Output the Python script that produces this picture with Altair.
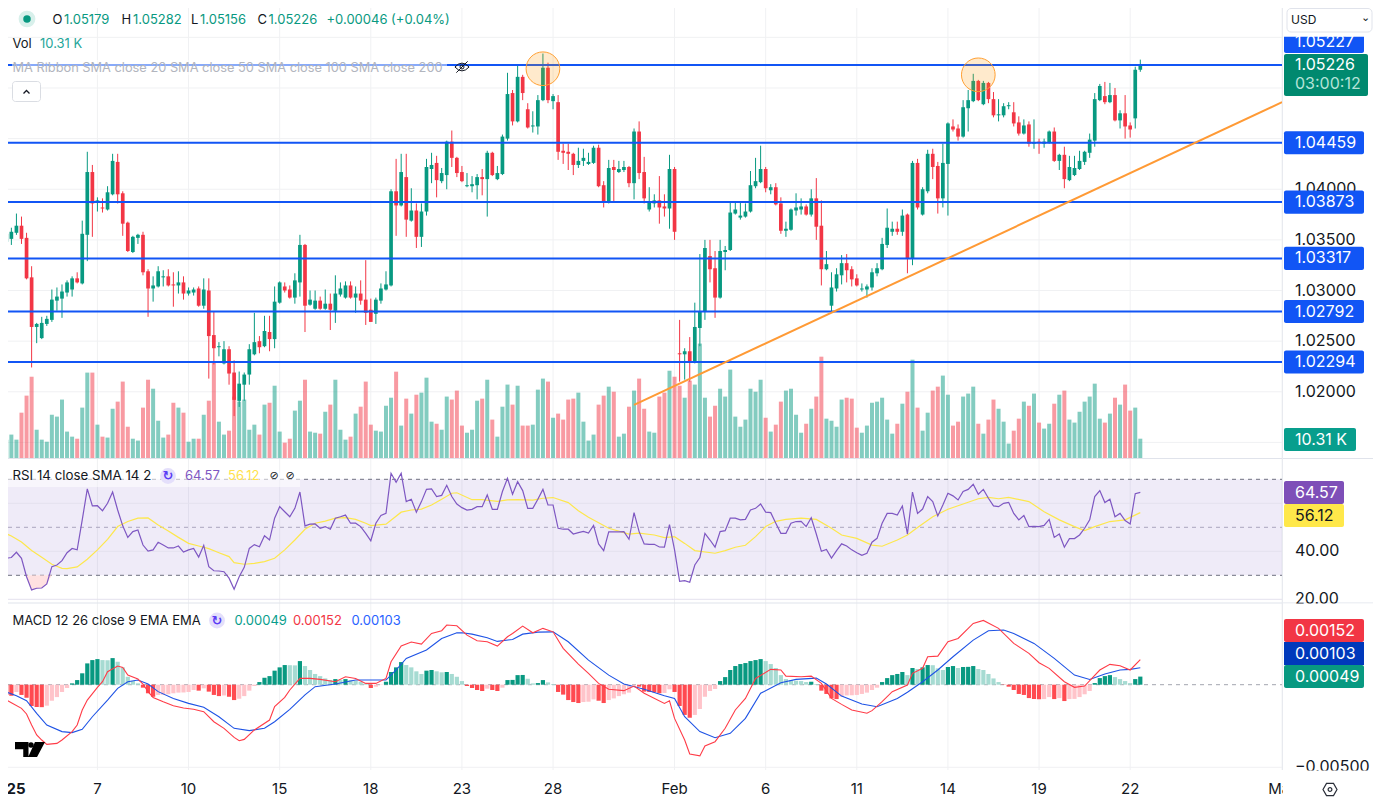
import altair as alt
import pandas as pd

# ---------- candles, prices in 1/10000 ----------
opens = [10348,10351,10357,10364,10352,10313,10264,10253,10267,10271,
10290,10292,10298,10301,10312,10307,10355,10417,10387,10382,
10380,10395,10427,10396,10367,10338,10352,10355,10319,10302,
10304,10313,10314,10306,10305,10308,10297,10298,10302,10285,
10300,10256,10244,10228,10242,10219,10191,10207,10217,10237,
10250,10245,10259,10252,10288,10304,10301,10293,10308,10345,
10286,10282,10290,10282,10287,10280,10296,10293,10305,10293,
10297,10291,10281,10277,10290,10301,10305,10398,10384,10412,
10369,10379,10353,10378,10420,10426,10408,10414,10447,10431,
10417,10403,10403,10404,10412,10410,10436,10410,10415,10450,
10495,10467,10511,10479,10462,10462,10488,10520,10487,10486,
10438,10437,10435,10424,10428,10425,10426,10441,10404,10387,
10422,10417,10419,10422,10406,10457,10417,10380,10386,10389,
10383,10381,10420,10238,10237,10240,10229,10263,10279,10334,
10322,10293,10338,10340,10376,10372,10373,10378,10403,10407,
10420,10399,10402,10386,10359,10360,10379,10380,10383,10375,
10391,10364,10321,10285,10302,10315,10327,10321,10312,10301,
10301,10303,10317,10321,10345,10358,10361,10358,10375,10332,
10426,10375,10398,10435,10423,10391,10425,10462,10460,10452,
10480,10487,10507,10484,10505,10489,10473,10473,10482,10476,
10466,10455,10464,10445,10447,10445,10446,10457,10428,10434,
10409,10414,10420,10427,10436,10448,10488,10492,10486,10493,
10468,10475,10463,10470,10518]
highs = [10365,10362,10376,10373,10357,10324,10268,10274,10275,10301,
10303,10306,10310,10314,10318,10369,10437,10424,10392,10391,
10403,10435,10435,10398,10368,10354,10356,10358,10321,10314,
10324,10320,10321,10318,10319,10314,10303,10303,10304,10312,
10312,10279,10249,10250,10245,10231,10220,10219,10247,10278,
10255,10275,10275,10304,10309,10308,10305,10317,10355,10346,
10300,10300,10294,10301,10297,10315,10308,10309,10309,10304,
10310,10330,10292,10293,10307,10319,10400,10430,10435,10435,
10401,10386,10386,10430,10436,10433,10421,10448,10458,10432,
10423,10416,10413,10415,10420,10438,10437,10423,10454,10515,
10498,10523,10513,10485,10477,10493,10534,10525,10494,10493,
10445,10445,10436,10441,10440,10436,10443,10444,10408,10429,
10429,10428,10428,10423,10460,10467,10432,10402,10395,10413,
10395,10434,10422,10271,10243,10254,10288,10336,10350,10350,
10339,10350,10344,10387,10387,10387,10386,10418,10431,10443,
10422,10405,10406,10392,10368,10381,10396,10391,10385,10400,
10411,10389,10339,10318,10322,10335,10336,10324,10316,10307,
10306,10322,10327,10352,10381,10368,10368,10380,10376,10428,
10430,10402,10439,10440,10427,10445,10466,10469,10464,10488,
10498,10514,10508,10507,10506,10496,10489,10485,10486,10486,
10472,10469,10467,10469,10450,10450,10458,10461,10435,10442,
10433,10433,10438,10438,10455,10495,10504,10506,10505,10500,
10478,10493,10466,10521,10528]
lows = [10346,10345,10355,10346,10311,10224,10248,10252,10265,10269,
10280,10273,10294,10294,10307,10306,10329,10353,10378,10377,
10379,10394,10386,10354,10338,10337,10346,10315,10274,10289,
10303,10304,10304,10284,10297,10291,10295,10295,10284,10282,
10213,10227,10235,10227,10207,10176,10185,10191,10207,10236,
10238,10244,10240,10243,10287,10298,10292,10287,10294,10259,
10285,10281,10281,10281,10261,10268,10294,10292,10292,10278,
10286,10266,10269,10267,10287,10300,10304,10354,10383,10353,
10368,10342,10343,10374,10406,10392,10406,10400,10422,10412,
10407,10402,10397,10390,10394,10373,10413,10409,10414,10448,
10463,10466,10488,10460,10456,10454,10487,10485,10479,10429,
10425,10419,10414,10421,10423,10424,10425,10402,10382,10386,
10387,10416,10417,10402,10390,10410,10386,10378,10382,10366,
10373,10361,10350,10210,10212,10210,10228,10245,10271,10308,
10273,10292,10320,10339,10375,10370,10372,10377,10401,10406,
10397,10395,10384,10356,10353,10359,10374,10375,10374,10373,
10350,10305,10320,10279,10299,10306,10308,10304,10304,10299,
10293,10300,10314,10320,10342,10354,10355,10354,10317,10325,
10380,10374,10396,10410,10376,10382,10374,10457,10448,10451,
10457,10486,10487,10483,10485,10471,10467,10471,10479,10462,
10453,10454,10442,10440,10435,10441,10445,10427,10419,10401,
10408,10413,10419,10424,10431,10442,10487,10484,10485,10467,
10460,10450,10451,10460,10516]
closes = [10356,10358,10364,10351,10312,10264,10267,10268,10272,10291,
10294,10299,10308,10312,10308,10356,10417,10386,10389,10381,
10397,10428,10395,10366,10339,10353,10355,10318,10302,10305,
10319,10314,10305,10305,10308,10297,10300,10301,10285,10301,
10255,10243,10245,10242,10218,10192,10208,10217,10242,10249,
10244,10260,10252,10289,10308,10300,10293,10310,10345,10285,
10291,10290,10282,10287,10281,10297,10302,10305,10293,10297,
10290,10278,10269,10291,10302,10306,10398,10384,10417,10370,
10379,10353,10378,10422,10424,10409,10416,10447,10431,10416,
10408,10404,10405,10412,10410,10436,10414,10416,10452,10494,
10467,10511,10495,10461,10463,10488,10520,10488,10492,10437,
10436,10435,10424,10428,10431,10427,10441,10403,10387,10421,
10419,10420,10422,10406,10457,10416,10391,10388,10389,10382,
10381,10420,10358,10237,10240,10229,10264,10279,10342,10321,
10293,10339,10340,10377,10380,10374,10378,10404,10408,10420,
10401,10402,10385,10359,10361,10380,10382,10383,10375,10391,
10363,10321,10326,10303,10316,10327,10320,10311,10305,10302,
10304,10318,10322,10346,10362,10361,10358,10374,10332,10426,
10382,10400,10435,10422,10391,10426,10465,10459,10452,10481,
10488,10507,10488,10505,10489,10473,10474,10482,10483,10465,
10455,10463,10445,10446,10446,10447,10457,10428,10434,10410,
10422,10421,10428,10437,10449,10489,10502,10486,10493,10468,
10475,10462,10459,10518,10523]
# volume, thousands
volumes = [9.8,12.5,9.8,24.2,33.3,43.4,15.1,9.8,8.7,23.1,
22.1,31.2,14.1,11.4,10.3,26.9,45.6,45.6,17.8,11.4,
10.9,26.3,30.1,40.8,16.7,10.3,9.3,26.9,41.8,37.0,
19.9,10.9,12.5,29.5,26.9,24.2,8.7,10.3,10.3,23.1,
30.6,50.9,19.4,12.5,14.6,32.8,30.1,31.2,15.1,17.8,
12.5,28.5,29.5,38.6,14.1,8.2,10.3,25.3,30.6,41.8,
14.1,13.5,13.0,24.7,28.5,41.8,15.1,9.8,11.4,23.7,
27.4,40.8,17.8,14.6,14.1,27.9,32.2,46.1,17.3,31.7,
23.7,33.8,34.9,42.9,19.4,18.3,15.1,32.8,31.2,36.0,
17.3,13.5,15.1,30.6,31.7,41.8,20.5,11.4,27.4,39.2,
28.5,38.6,17.3,17.3,17.8,36.5,42.4,40.8,21.5,23.7,
20.5,31.2,31.7,34.9,19.4,9.3,12.5,28.5,33.3,38.1,
35.4,11.4,13.0,27.4,36.0,42.4,26.3,14.1,13.5,32.8,
34.9,46.6,43.4,38.6,32.2,41.3,39.2,61.1,32.2,22.1,
27.9,37.0,32.8,47.2,22.1,16.7,20.5,37.0,35.4,41.8,
21.5,14.1,17.8,30.1,36.0,37.0,23.1,13.5,18.3,26.3,
32.8,54.1,21.0,19.9,16.7,31.2,32.2,31.7,16.2,13.5,
17.3,29.5,30.1,32.2,20.5,13.0,18.3,29.0,35.4,52.5,
26.9,14.6,24.2,36.0,38.1,44.0,33.8,17.3,19.4,32.8,
34.4,38.1,18.3,13.0,20.5,31.2,26.3,19.4,7.7,14.6,
21.0,30.1,27.9,34.4,18.9,15.7,18.3,29.0,33.8,36.0,
20.5,18.9,24.7,30.1,32.8,39.7,21.0,18.9,23.7,32.2,
28.5,39.2,25.3,26.9,10.31]
# RSI per bar
rsi = [37.1,37.4,39.6,37.1,29.4,23.9,24.6,24.7,26.4,33.6,
34.3,36.1,39.4,41.2,40.6,53.1,66.0,58.9,59.0,56.9,
60.0,64.7,57.2,50.6,45.8,48.2,48.9,42.6,40.1,40.6,
43.8,42.6,41.4,41.4,42.2,39.7,40.6,41.2,37.6,42.5,
33.6,31.9,31.8,31.5,28.8,24.2,29.4,33.3,41.2,42.8,
41.9,46.5,44.7,53.8,58.6,56.5,54.4,57.9,64.7,50.6,
51.3,51.4,49.6,50.3,49.2,53.8,54.4,55.1,51.7,51.7,
50.3,47.5,44.4,51.7,54.9,55.8,72.5,68.8,72.5,60.7,
61.7,56.3,60.7,65.8,66.0,62.8,63.3,67.5,62.8,59.7,
58.2,57.2,57.5,58.6,58.6,63.5,57.5,57.5,64.9,70.4,
63.8,69.0,65.3,57.9,57.9,61.7,65.8,59.3,59.3,49.6,
49.2,49.2,47.2,47.8,48.3,47.6,50.8,43.1,40.3,48.1,
48.1,48.1,48.2,45.0,56.1,48.2,43.1,42.9,42.9,41.8,
41.7,51.1,40.6,27.5,27.8,27.1,34.3,37.4,47.5,44.7,
41.7,48.2,48.6,53.8,53.8,53.1,53.3,57.2,57.9,59.7,
56.3,56.1,51.7,47.5,47.5,51.7,52.4,52.5,50.3,54.0,
47.2,40.0,40.8,37.2,40.3,43.1,42.2,40.6,39.4,38.3,
39.2,43.8,45.4,51.7,55.8,55.8,55.1,58.9,47.2,64.7,
55.8,57.6,62.8,60.7,54.7,59.3,64.2,63.1,61.4,64.9,
65.8,67.9,63.8,65.8,62.1,58.9,58.6,60.0,60.4,55.8,
53.1,54.9,50.3,50.4,50.3,50.8,53.3,45.8,47.2,41.7,
45.3,45.3,46.8,49.6,53.1,62.8,65.3,60.3,61.7,54.4,
55.8,52.8,51.4,64.0,64.57]
# RSI moving average: bar numbers and values
sma_bar = [-1,1,3,5,7,9,11,12,14,16,18,20,22,24,26,28,30,32,34,36,38,40,42,44,45,47,49,51,53,55,57,59,61,63,65,67,69,71,72,75,78,80,82,84,86,88,89,92,94,97,99,101,104,106,108,111,113,115,119,123,125,128,130,132,134,136,140,142,144,146,148,150,152,154,157,160,163,165,168,171,173,176,178,180,183,186,188,192,194,196,198,202,205,208,211,213,215,218,221,224]
sma_val = [48.2,46.4,43.9,40.3,37.5,34.6,32.9,32.8,33.5,36.7,40.6,45.0,50.3,52.4,53.8,53.9,51.0,48.5,45.8,43.3,42.2,41.1,39.4,37.8,35.3,34.6,35.0,35.7,37.1,40.6,44.7,49.2,51.7,52.6,53.8,54.0,53.3,51.7,50.7,51.3,56.3,57.2,57.6,59.3,61.7,64.2,64.4,61.5,61.5,60.8,61.4,61.5,61.3,62.1,62.4,60.3,56.9,54.2,49.6,47.2,47.6,46.8,45.7,46.1,43.3,40.3,39.2,40.3,41.7,42.5,46.1,50.3,52.5,53.3,53.8,53.3,49.6,46.8,45.4,42.6,42.1,44.7,46.8,49.9,54.4,57.5,59.0,61.9,62.5,61.9,62.5,60.7,56.5,53.1,50.3,48.6,50.3,52.4,53.1,56.12]
# MACD histogram per bar, 1/100000
hist = [-62,-67,-44,-62,-79,-129,-135,-136,-127,-97,
-75,-44,-20,8,28,69,129,149,155,149,
148,161,139,105,48,22,8,-18,-52,-73,
-62,-61,-58,-52,-48,-47,-44,-32,-36,-22,
-42,-62,-69,-65,-73,-93,-85,-69,-36,-8,
16,42,52,85,105,119,118,117,143,113,
89,65,52,38,28,34,28,34,28,24,
18,8,-20,-12,-2,18,77,105,137,119,
105,81,65,85,89,81,75,77,65,48,
22,-8,-20,-32,-38,-24,-32,-38,-18,28,
29,58,59,36,8,10,28,14,4,-44,
-60,-93,-105,-111,-105,-103,-89,-97,-111,-93,
-83,-69,-58,-48,-4,-12,-42,-44,-46,-52,
-50,-28,-44,-129,-183,-200,-183,-147,-73,-38,
-26,22,46,89,113,125,131,143,149,155,
143,125,101,58,34,28,24,22,16,18,
4,-36,-56,-83,-87,-73,-65,-64,-62,-56,
-48,-32,-18,16,40,58,65,77,58,101,
95,105,119,118,99,89,107,113,101,107,
108,113,95,89,65,38,16,-2,-12,-32,
-56,-62,-81,-87,-88,-87,-75,-87,-81,-99,
-87,-86,-75,-58,-38,10,40,52,58,46,
34,22,10,34,49]
macd_bar = [-1,1,3,4,5,6,7,8,10,11,13,14,15,16,18,19,20,22,23,24,26,27,28,29,31,33,35,37,39,41,43,45,46,47,49,52,53,55,56,58,60,62,65,67,69,71,73,75,76,78,80,82,84,86,87,89,91,93,95,97,99,100,102,104,106,108,110,113,115,117,119,122,124,126,130,131,132,134,135,137,138,140,142,144,146,148,151,153,154,157,159,161,163,165,167,170,171,173,175,178,179,181,182,184,186,188,191,193,196,199,202,204,206,209,211,213,216,218,220,222,224]
macd_val = [-77,-109,-143,-177,-244,-304,-335,-361,-355,-335,-284,-244,-153,-93,-16,18,79,113,105,58,34,4,-42,-77,-103,-127,-141,-149,-163,-224,-264,-319,-339,-331,-274,-214,-133,-77,-32,38,38,32,18,48,38,8,8,38,139,234,258,246,310,327,361,357,300,266,260,234,290,310,355,314,341,320,220,125,69,8,-28,-36,-8,-52,-113,-97,-204,-335,-419,-431,-371,-345,-264,-153,-83,38,93,89,52,48,52,8,-83,-119,-153,-173,-157,-103,-42,-2,69,99,169,173,260,280,371,389,341,250,190,133,99,18,-16,-8,89,123,115,89,152]
signal_bar = [-1,2,4,6,8,11,13,15,17,20,22,24,26,28,30,33,36,39,42,45,48,51,53,56,59,61,65,69,72,75,77,79,83,86,89,90,92,95,97,100,102,105,108,111,115,119,122,126,130,132,134,137,140,143,146,149,153,156,160,162,165,169,172,176,178,181,184,187,191,194,197,199,203,207,211,214,217,220,222,224]
signal_val = [-32,-67,-97,-173,-244,-284,-290,-270,-194,-93,-22,18,28,4,-42,-83,-113,-137,-194,-264,-278,-264,-224,-149,-62,-12,4,28,28,28,89,159,210,280,314,314,306,284,262,274,306,318,320,260,149,58,4,-28,-67,-83,-194,-284,-321,-294,-204,-52,12,32,40,4,-69,-117,-133,-83,-46,18,89,169,270,327,331,310,250,159,58,32,65,89,93,103]
# price levels, gridlines, drawings
levels = [1.05227,1.04459,1.03873,1.03317,1.02792,1.02294]
price_ticks = [1.055,1.05,1.045,1.04,1.035,1.03,1.025,1.02,1.015]
price_labels = [1.04,1.035,1.03,1.025,1.02]
date_bars = [0,18,36,54,72,90,108,132,150,168,186,204,222,252]
date_text = ["2025","7","10","15","18","23","28","Feb","6","11","14","19","22","Mar"]
trend_bar = [124,252]
trend_price = [1.0187,1.0486]
circle_bar = [106,192]
circle_price = [1.0519,1.0513]

W, H = 1365, 790
FONT = "Inter"
GREEN, RED, BLUE, ORANGE = "#089981", "#F23645", "#1155F5", "#FF9A35"
GRID = "#F0F1F3"
AXSZ = 16
ONE = pd.DataFrame({"a": [0]})

xscale = alt.Scale(domain=[0.3358, 269.965], nice=False, zero=False, padding=0)
X = alt.X("i:Q", scale=xscale, axis=None)

def yaxis(field, dom, rng):
    return alt.Y(field, scale=alt.Scale(domain=dom, range=rng, nice=False, zero=False), axis=None, stack=None)
def yprice(f): return yaxis(f, [1.02294, 1.05227], [354, 57])
def yvol(f): return yaxis(f, [0, 240.3], [450, 0])
def yrsi(f): return yaxis(f, [30, 70], [567.3, 471.3])
def ymacd(f): return yaxis(f, [-0.005, 0], [759.3, 676.7])

def T(px, py, s, color="#131722", size=13, align="left", weight="normal", font=FONT):
    return alt.Chart(ONE).mark_text(text=s, color=color, fontSize=size, align=align, baseline="middle",
                                    fontWeight=weight, font=font).encode(x=alt.value(px - 8), y=alt.value(py - 8))
def R(x0, y0, x1, y1, fill, opacity=1.0, radius=0, stroke=None):
    kw = dict(fill=fill, opacity=opacity, cornerRadius=radius)
    if stroke:
        kw["stroke"] = stroke
    return alt.Chart(ONE).mark_rect(**kw).encode(x=alt.value(x0 - 8), x2=alt.value(x1 - 8),
                                                 y=alt.value(y0 - 8), y2=alt.value(y1 - 8))
def P(px, py, shape, size, fill=None, stroke=None, width=1.0):
    kw = dict(shape=shape, size=size, strokeWidth=width)
    if fill:
        kw.update(fill=fill, filled=True, opacity=1)
    else:
        kw.update(filled=False, stroke=stroke, opacity=1)
    return alt.Chart(ONE).mark_point(**kw).encode(x=alt.value(px - 8), y=alt.value(py - 8))

n = len(opens)
candles = pd.DataFrame({"i": range(n),
                        "o": [v / 1e4 for v in opens], "h": [v / 1e4 for v in highs],
                        "l": [v / 1e4 for v in lows], "c": [v / 1e4 for v in closes],
                        "v": volumes, "rsi": rsi, "hist": [v / 1e5 for v in hist]})
candles["col"] = [GREEN if c >= o else RED for o, c in zip(opens, closes)]
candles["volcol"] = [GREEN if c >= o else RED for o, c in zip(opens, closes)]
hcol = []
for k, v in enumerate(hist):
    prev = hist[k - 1] if k else v
    if v >= 0:
        hcol.append("#089981" if v >= prev else "#A6DBD2")
    else:
        hcol.append("#FF4A50" if v <= prev else "#FFC4CA")
candles["hcol"] = hcol
c_color = alt.Color("col:N", scale=None)

layers = []
# ---------- grid ----------
grid_x = pd.DataFrame({"i": date_bars})
layers.append(alt.Chart(grid_x).mark_rule(color=GRID, strokeWidth=1).encode(x=X, y=alt.value(0), y2=alt.value(762)))
layers.append(alt.Chart(pd.DataFrame({"p": price_ticks})).mark_rule(color=GRID, strokeWidth=1)
              .encode(y=yprice("p:Q"), x=alt.value(0), x2=alt.value(1274)))
# ---------- volume and candles ----------
layers.append(alt.Chart(candles).mark_bar(size=4, opacity=0.5).encode(x=X, y=yvol("v:Q"), color=alt.Color("volcol:N", scale=None)))
layers.append(alt.Chart(candles).mark_rule(strokeWidth=1).encode(x=X, y=yprice("l:Q"), y2="h:Q", color=c_color))
layers.append(alt.Chart(candles).mark_rule(strokeWidth=3.7).encode(x=X, y=yprice("o:Q"), y2="c:Q", color=c_color))
# ---------- drawings ----------
layers.append(alt.Chart(pd.DataFrame({"p": levels})).mark_rule(color=BLUE, strokeWidth=2)
              .encode(y=yprice("p:Q"), x=alt.value(0), x2=alt.value(1274)))
layers.append(alt.Chart(pd.DataFrame({"i": trend_bar, "p": trend_price})).mark_line(color=ORANGE, strokeWidth=2)
              .encode(x=X, y=yprice("p:Q")))
circ = pd.DataFrame({"i": circle_bar, "p": circle_price})
layers.append(alt.Chart(circ).mark_point(shape="circle", size=1134, filled=True, fill="#FF9800", opacity=0.2)
              .encode(x=X, y=yprice("p:Q")))
layers.append(alt.Chart(circ).mark_point(shape="circle", size=1134, filled=False, stroke="#FFA033", strokeWidth=1, opacity=1)
              .encode(x=X, y=yprice("p:Q")))
# ---------- panes ----------
layers.append(R(3, 458, 1377, 459, "#E0E3EB"))
layers.append(R(3, 602.5, 1377, 603.5, "#E0E3EB"))
layers.append(R(1282, 0, 1283, 770, "#E8EAEF"))
# RSI
layers.append(alt.Chart(ONE).mark_rect(fill="#7E57C2", opacity=0.12)
              .encode(y=yrsi("datum_a:Q"), y2="datum_b:Q", x=alt.value(0), x2=alt.value(1274))
              .transform_calculate(datum_a="30", datum_b="70"))
layers.append(alt.Chart(pd.DataFrame({"r": [60, 40, 20]})).mark_rule(color="#E4E2EE", strokeWidth=1)
              .encode(y=yrsi("r:Q"), x=alt.value(0), x2=alt.value(1274)))
layers.append(alt.Chart(pd.DataFrame({"r": [70, 30]})).mark_rule(color="#6F7180", strokeWidth=1, strokeDash=[4, 4])
              .encode(y=yrsi("r:Q"), x=alt.value(0), x2=alt.value(1274)))
layers.append(alt.Chart(pd.DataFrame({"r": [50]})).mark_rule(color="#ABA6BE", strokeWidth=1, strokeDash=[4, 4])
              .encode(y=yrsi("r:Q"), x=alt.value(0), x2=alt.value(1274)))
low_rsi = candles[candles["i"].between(4, 9)].copy()
low_rsi["base"] = 30
low_rsi["r"] = low_rsi["rsi"].clip(upper=30)
layers.append(alt.Chart(low_rsi).mark_area(color="#FFD9D9", opacity=0.8).encode(x=X, y=yrsi("r:Q"), y2="base:Q"))
layers.append(alt.Chart(pd.DataFrame({"i": sma_bar, "r": sma_val})).mark_line(color="#FDE74C", strokeWidth=1.2)
              .encode(x=X, y=yrsi("r:Q")))
layers.append(alt.Chart(candles).mark_line(color="#7E57C2", strokeWidth=1.2).encode(x=X, y=yrsi("rsi:Q")))
# MACD
layers.append(alt.Chart(pd.DataFrame({"m": [-0.005]})).mark_rule(color=GRID, strokeWidth=1)
              .encode(y=ymacd("m:Q"), x=alt.value(0), x2=alt.value(1274)))
layers.append(alt.Chart(pd.DataFrame({"m": [0]})).mark_rule(color="#A3A5AF", strokeWidth=1, strokeDash=[4, 4])
              .encode(y=ymacd("m:Q"), x=alt.value(0), x2=alt.value(1274)))
layers.append(alt.Chart(candles).mark_bar(size=4.2).encode(x=X, y=ymacd("hist:Q"), color=alt.Color("hcol:N", scale=None)))
layers.append(alt.Chart(pd.DataFrame({"i": signal_bar, "m": [v / 1e5 for v in signal_val]}))
              .mark_line(color="#1E53E5", strokeWidth=1.1).encode(x=X, y=ymacd("m:Q")))
layers.append(alt.Chart(pd.DataFrame({"i": macd_bar, "m": [v / 1e5 for v in macd_val]}))
              .mark_line(color="#FF3B47", strokeWidth=1.1).encode(x=X, y=ymacd("m:Q")))
# ---------- time axis ----------
dates = pd.DataFrame({"i": date_bars, "t": date_text})
layers.append(alt.Chart(dates[dates.t == "2025"]).mark_text(font=FONT, fontSize=15, fontWeight="bold", color="#131722", baseline="middle")
              .encode(x=X, y=alt.value(781), text="t:N"))
layers.append(alt.Chart(dates[dates.t != "2025"]).mark_text(font=FONT, fontSize=15, color="#131722", baseline="middle")
              .encode(x=X, y=alt.value(781), text="t:N"))
# ---------- right axis ----------
layers.append(R(1283, 772, 1373, 798, "#FFFFFF"))
layers.append(alt.Chart(pd.DataFrame({"p": price_labels, "t": ["%.5f" % v for v in price_labels]}))
              .mark_text(font=FONT, fontSize=AXSZ, color="#131722", align="left", baseline="middle")
              .encode(x=alt.value(1287), y=yprice("p:Q"), text="t:N"))
layers.append(alt.Chart(pd.DataFrame({"r": [40, 20], "t": ["40.00", "20.00"]}))
              .mark_text(font=FONT, fontSize=AXSZ, color="#131722", align="left", baseline="middle")
              .encode(x=alt.value(1295 - 8), y=yrsi("r:Q"), text="t:N"))
layers.append(alt.Chart(pd.DataFrame({"m": [-0.005], "t": ["\u22120.00500"]}))
              .mark_text(font=FONT, fontSize=AXSZ, color="#131722", align="left", baseline="middle")
              .encode(x=alt.value(1287), y=ymacd("m:Q"), text="t:N"))
layers.append(R(1283, 603.5, 1373, 625, "#FFFFFF"))
layers.append(R(1283, 770.5, 1373, 785, "#FFFFFF"))
# level tags
tag_df = pd.DataFrame({"p": levels[1:], "p0": [v - 0.00114 for v in levels[1:]], "p1": [v + 0.00114 for v in levels[1:]],
                       "t": ["%.5f" % v for v in levels[1:]]})
layers.append(alt.Chart(tag_df).mark_rect(fill=BLUE, cornerRadius=2)
              .encode(x=alt.value(1276), x2=alt.value(1356), y=yprice("p0:Q"), y2="p1:Q"))
layers.append(alt.Chart(tag_df).mark_text(font=FONT, fontSize=AXSZ, color="#FFFFFF", align="left", baseline="middle")
              .encode(x=alt.value(1287), y=yprice("p:Q"), text="t:N"))
layers += [
    R(1284, 30, 1364, 53, BLUE, radius=2), T(1295, 42, "1.05227", "#FFFFFF", AXSZ),
    R(1283, 0, 1373, 36.7, "#FFFFFF"),
    R(1284, 54, 1368, 96, "#00896F", radius=2),
    T(1295, 65, "1.05226", "#FFFFFF", AXSZ), T(1295, 84, "03:00:12", "#B5E3D8", AXSZ),
    R(1284, 428, 1356, 451, "#089E8D", radius=2), T(1295, 439.5, "10.31 K", "#FFFFFF", AXSZ),
    R(1284, 481, 1344, 504, "#7E4FB8", radius=2), T(1295, 492.5, "64.57", "#FFFFFF", AXSZ),
    R(1284, 504, 1344, 527, "#FFE84A", radius=2), T(1295, 515.5, "56.12", "#131722", AXSZ),
    R(1284, 619, 1364, 642, "#F23645", radius=2), T(1295, 630.5, "0.00152", "#FFFFFF", AXSZ),
    R(1284, 642, 1364, 665, "#0039BB"), T(1295, 653.5, "0.00103", "#FFFFFF", AXSZ),
    R(1284, 665, 1364, 688, "#089981", radius=2), T(1295, 676.5, "0.00049", "#FFFFFF", AXSZ),
    # USD selector
    alt.Chart(ONE).mark_rect(fill="#FFFFFF", stroke="#E0E3EB", cornerRadius=4)
       .encode(x=alt.value(1287 - 8), x2=alt.value(1372 - 8), y=alt.value(8 - 8 + 0.5), y2=alt.value(32 - 8)),
    T(1291, 20, "USD", "#131722", 12),
    T(1365.5, 18, "\u2304", "#131722", 11, align="center", font="DejaVu Sans"),
    # settings icon
    P(1330, 789.5, "M-1 0L-.5-.87H.5L1 0L.5 .87H-.5Z", 196, stroke="#2A2E39", width=1.2),
    P(1330, 789.5, "circle", 14, stroke="#2A2E39", width=1.2),
    # logo
    P(30, 749.5, "M-1-.5H-.1V.5H-.45V-.02H-1ZM.33-.5H1L.47 .5H-.12Z", 900, fill="#000000"),
    P(31, 745, "circle", 30, fill="#000000"),
    # legend: price
    R(12, 60, 447, 75, "#FFFFFF", opacity=0.5),
    P(27, 19, "circle", 280, fill="#D8F0EB"),
    P(27, 19, "circle", 56, fill=GREEN),
    T(52.5, 19.7, "O"), T(64, 19.7, "1.05179", GREEN),
    T(121.5, 19.7, "H"), T(133, 19.7, "1.05282", GREEN),
    T(191, 19.7, "L"), T(200, 19.7, "1.05156", GREEN),
    T(257.5, 19.7, "C"), T(268.5, 19.7, "1.05226", GREEN),
    T(326.5, 19.7, "+0.00046 (+0.04%)", GREEN),
    T(12.5, 43.5, "Vol"), T(40, 43.5, "10.31 K", "#26A69A"),
    T(12.5, 67.5, "MA Ribbon SMA close 20 SMA close 50 SMA close 100 SMA close 200", "#B2B5BE", 12.8),
    P(462, 67, "M-1 0Q0-1.1 1 0Q0 1.1-1 0ZM-.8 .8L.8-.8", 200, stroke="#131722", width=1),
    P(462, 67, "circle", 16, stroke="#131722", width=1),
    alt.Chart(ONE).mark_rect(fill="#FFFFFF", stroke="#DADDE3", cornerRadius=3)
       .encode(x=alt.value(12.5 - 8), x2=alt.value(40.5 - 8), y=alt.value(81.5 - 8), y2=alt.value(101.5 - 8)),
    P(26.5, 92, "M-1 .5L0-.5L1 .5", 36, stroke="#131722", width=1.3),
    # legend: RSI
    R(3, 473, 300, 487, "#FFFFFF", opacity=0.55),
    T(12.5, 476, "RSI 14 close SMA 14 2", size=13.3),
    P(168, 476, "circle", 250, fill="#E4DFFB"),
    T(168, 476, "\u21BB", "#5B3DF5", 13, align="center", weight="bold", font="DejaVu Sans"),
    T(185, 476, "64.57", "#7E57C2"), T(228, 476, "56.12", "#FFE24D"),
    T(274, 476, "\u2298", "#131722", 11, align="center", font="DejaVu Sans"),
    T(290, 476, "\u2298", "#131722", 11, align="center", font="DejaVu Sans"),
    # legend: MACD
    T(12.5, 620.5, "MACD 12 26 close 9 EMA EMA"),
    P(217, 620.5, "circle", 250, fill="#E4DFFB"),
    T(217, 620.5, "\u21BB", "#5B3DF5", 13, align="center", weight="bold", font="DejaVu Sans"),
    T(234.5, 620.5, "0.00049", "#089E8D"), T(293, 620.5, "0.00152", RED), T(351.5, 620.5, "0.00103", "#2962FF"),
]

chart = alt.layer(*layers).resolve_scale(y="independent").properties(
    width=W, height=H, padding=0, autosize=alt.AutoSizeParams(type="none")
).configure_view(stroke=None)

chart.save("out.html", embed_options={"renderer": "svg", "actions": False})
